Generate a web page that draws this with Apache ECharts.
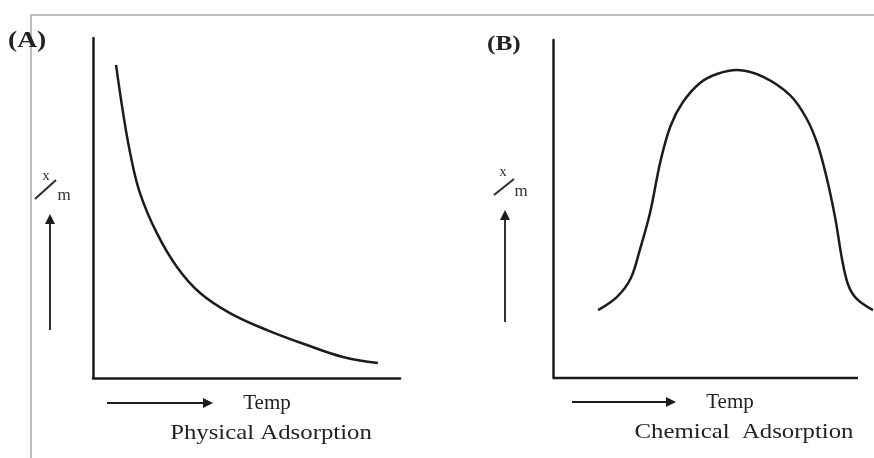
<!DOCTYPE html>
<html>
<head>
<meta charset="utf-8">
<script src="https://cdn.jsdelivr.net/npm/echarts@6/dist/echarts.min.js"></script>
<style>
html,body{margin:0;padding:0;background:#fff;}
#chart{width:874px;height:458px;}
</style>
</head>
<body>
<div id="chart"></div>
<script>
// Panel A: physical adsorption (x/m vs temperature), relative units
const tempA = [7.5, 9.8, 12.1, 15.3, 20.8, 27.4, 34.9, 44.6, 56.7, 69.7, 81.4, 92.8];
const xmA   = [92.1, 78.0, 66.2, 54.4, 42.6, 32.6, 25.0, 19.1, 14.1, 9.7, 6.2, 4.4];
// Panel B: chemical adsorption
const tempB = [14.8, 21.0, 25.5, 28.5, 31.8, 35.2, 38.5, 42.5, 48.2, 54.0, 60.3, 68.9, 77.7, 83.0, 86.8, 89.8, 92.6, 94.8, 96.8, 99.5, 104.9];
const xmB   = [20.1, 24.0, 29.5, 38.0, 48.8, 64.0, 74.5, 81.5, 87.3, 90.0, 91.1, 89.1, 83.7, 77.0, 69.0, 59.0, 47.0, 35.0, 27.5, 23.5, 20.1];

const panelLabels = ['(A)', '(B)'];
const xLabel = 'Temp';
const captions = ['Physical Adsorption', 'Chemical  Adsorption'];

const pair = (xs, ys) => xs.map((x, i) => [x, ys[i]]);

const chart = echarts.init(document.getElementById('chart'), null, {renderer: 'canvas'});

const ink = '#1c1c1c';
const axisCommon = {
  type: 'value', min: 0, max: 100,
  axisLine: {show: true, onZero: false, lineStyle: {color: ink, width: 2.5}},
  axisTick: {show: false}, axisLabel: {show: false}, splitLine: {show: false}
};

function arrowUp(x, y1, y2) {
  return [
    {type: 'line', shape: {x1: x, y1: y1, x2: x, y2: y2 + 6}, style: {stroke: ink, lineWidth: 1.8}},
    {type: 'polygon', shape: {points: [[x, y2], [x - 5, y2 + 10], [x + 5, y2 + 10]]}, style: {fill: ink}}
  ];
}
function arrowRight(x1, x2, y) {
  return [
    {type: 'line', shape: {x1: x1, y1: y, x2: x2 - 6, y2: y}, style: {stroke: ink, lineWidth: 1.8}},
    {type: 'polygon', shape: {points: [[x2, y], [x2 - 10, y - 5], [x2 - 10, y + 5]]}, style: {fill: ink}}
  ];
}
function xm(xx, yx, sx1, sy1, sx2, sy2, mx, my) {
  return [
    {type: 'text', x: xx, y: yx, style: {text: 'x', font: '15px "Liberation Serif"', fill: '#333', align: 'center', verticalAlign: 'middle'}},
    {type: 'line', shape: {x1: sx1, y1: sy1, x2: sx2, y2: sy2}, style: {stroke: '#333', lineWidth: 2.2}},
    {type: 'text', x: mx, y: my, style: {text: 'm', font: '17px "Liberation Serif"', fill: '#333', align: 'center', verticalAlign: 'middle'}}
  ];
}
const serif = '"Liberation Serif", "Times New Roman", serif';

const graphics = [
  // frame
  {type: 'polyline', shape: {points: [[31, 458], [31, 15], [874, 15]]}, style: {stroke: '#bdbdbd', lineWidth: 2, fill: null}},
  {type: 'text', x: 8, y: 41, scaleX: 1.2, style: {text: panelLabels[0], font: 'bold 23px ' + serif, fill: '#222', verticalAlign: 'middle'}},
  {type: 'text', x: 487, y: 44, scaleX: 1.15, style: {text: panelLabels[1], font: 'bold 22px ' + serif, fill: '#222', verticalAlign: 'middle'}},
  ...xm(46, 176, 35, 199, 56, 180, 64, 196),
  ...xm(503, 172, 494, 195, 514, 179, 521, 192),
  ...arrowUp(50, 330, 214),
  ...arrowUp(505, 322, 210),
  ...arrowRight(107, 213, 403),
  ...arrowRight(572, 676, 402),
  // x axis line of panel B (axis stops short of the curve end)
  {type: 'line', shape: {x1: 553, y1: 378, x2: 858, y2: 378}, style: {stroke: ink, lineWidth: 2.5}},
  {type: 'text', x: 267, y: 403, style: {text: xLabel, font: '21px ' + serif, fill: '#222', align: 'center', verticalAlign: 'middle'}},
  {type: 'text', x: 730, y: 402, style: {text: xLabel, font: '21px ' + serif, fill: '#222', align: 'center', verticalAlign: 'middle'}},
  {type: 'text', x: 271, y: 433, scaleX: 1.18, originX: 0, style: {text: captions[0], font: '21px ' + serif, fill: '#222', align: 'center', verticalAlign: 'middle'}},
  {type: 'text', x: 744, y: 432, scaleX: 1.18, originX: 0, style: {text: captions[1], font: '21px ' + serif, fill: '#222', align: 'center', verticalAlign: 'middle'}}
];

chart.setOption({
  backgroundColor: '#ffffff',
  animation: false,
  grid: [
    {left: 93, top: 38, width: 307, height: 340},
    {left: 553, top: 40, width: 321, height: 338}
  ],
  xAxis: [
    Object.assign({gridIndex: 0}, axisCommon),
    Object.assign({gridIndex: 1}, axisCommon, {max: 105.25, axisLine: {show: false}})
  ],
  yAxis: [
    Object.assign({gridIndex: 0}, axisCommon),
    Object.assign({gridIndex: 1}, axisCommon)
  ],
  series: [
    {type: 'line', xAxisIndex: 0, yAxisIndex: 0, data: pair(tempA, xmA), smooth: 0.4, showSymbol: false,
     lineStyle: {color: ink, width: 2.5}},
    {type: 'line', xAxisIndex: 1, yAxisIndex: 1, data: pair(tempB, xmB), smooth: 0.35, showSymbol: false, clip: false,
     lineStyle: {color: ink, width: 2.5}}
  ],
  graphic: graphics
});
</script>
</body>
</html>
